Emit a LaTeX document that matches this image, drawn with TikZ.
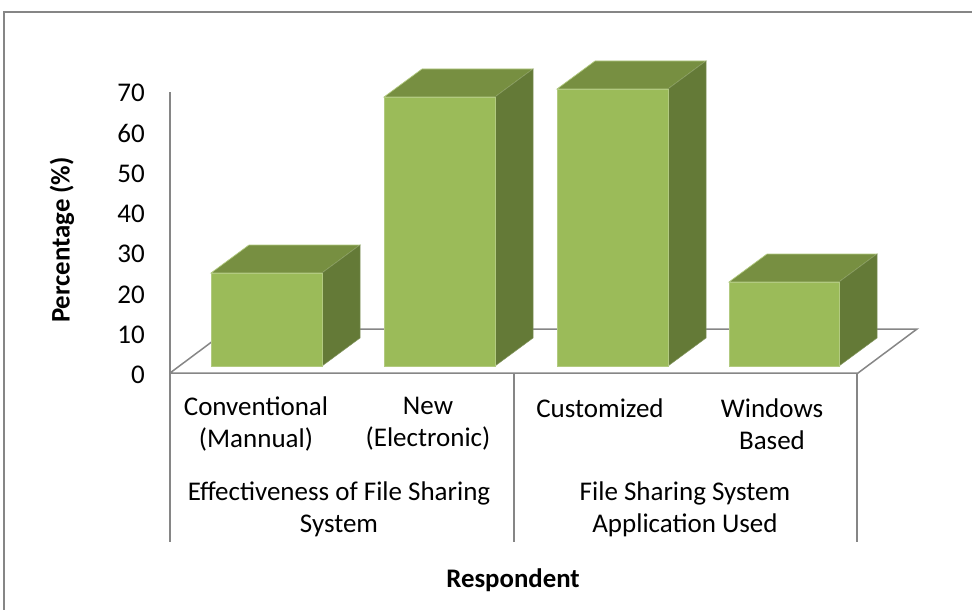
\documentclass[tikz,border=0pt]{standalone}
\usepackage{fontspec}
\setmainfont{Carlito}
\definecolor{frontc}{RGB}{155,187,89}
\definecolor{topc}{RGB}{119,143,65}
\definecolor{sidec}{RGB}{100,122,55}
\definecolor{edgec}{RGB}{178,202,128}
\definecolor{axisc}{RGB}{134,134,134}
\newcommand\cuboid[3]{%
  \fill[topc,draw=edgec,line width=0.7pt] (#1,#3) -- ++(38,-28) -- (#2+38,#3-28) -- (#2,#3) -- cycle;
  \fill[sidec,draw=sidec!80!white,line width=0.5pt] (#2,#3) -- (#2+38,#3-28) -- (#2+38,338) -- (#2,366) -- cycle;
  \fill[frontc,draw=edgec,line width=0.7pt] (#1,366) rectangle (#2,#3);
}
\begin{document}
\begin{tikzpicture}[x=1pt,y=-1pt,
  axisline/.style={draw=axisc,line width=1.5pt},
  catlabel/.style={font=\fontsize{27}{32}\selectfont,align=center,inner sep=0pt},
  numlabel/.style={font=\fontsize{27}{30}\selectfont,anchor=east,inner sep=0pt},
  titlelabel/.style={font=\bfseries\fontsize{26.8}{30}\selectfont,inner sep=0pt}]
\useasboundingbox (0,0) rectangle (972,610);
\fill[white] (0,0) rectangle (972,610);
% frame
\draw[axisc,line width=1.2pt] (972,12) -- (4,12) -- (4,612);
% floor
\coordinate (fl) at (170,373);
\coordinate (fr) at (858,373);
\coordinate (bl) at (229,329);
\coordinate (br) at (917,329);
\draw[axisline] (fl) -- (bl) -- (br) -- (fr) -- (fl);
% axis and category separators
\coordinate (atop) at (170,92);
\coordinate (abot) at (170,542);
\coordinate (m1) at (514,373);
\coordinate (m1b) at (514,542);
\coordinate (m2) at (857,373);
\coordinate (m2b) at (857,542);
\draw[axisline] (atop) -- (abot);
\draw[axisline] (m1) -- (m1b);
\draw[axisline] (m2) -- (m2b);
% bars
\cuboid{211}{322}{273}
\cuboid{384}{495}{97}
\cuboid{557}{668}{89}
\cuboid{729}{839}{282}
% value labels
\foreach \v [count=\i from 0] in {0,10,20,30,40,50,60,70}
  \node[numlabel] (n\i) at (145,{375-40.3*\i}) {\v};
\node[titlelabel,rotate=90] (ytitle) at (62,240) {Percentage (\%)};
% category labels
\node[catlabel] (c1) at (256,424) {Conventional\\(Mannual)};
\node[catlabel] (c2) at (428,424) {New\\(Electronic)};
\node[catlabel] (c3) at (600,408) {Customized};
\node[catlabel] (c4) at (772,424) {Windows\\Based};
\node[catlabel] (g1) at (339,509) {Effectiveness of File Sharing\\System};
\node[catlabel] (g2) at (685,509) {File Sharing System\\Application Used};
\node[titlelabel] (xtitle) at (513,580) {Respondent};
\end{tikzpicture}
\end{document}
